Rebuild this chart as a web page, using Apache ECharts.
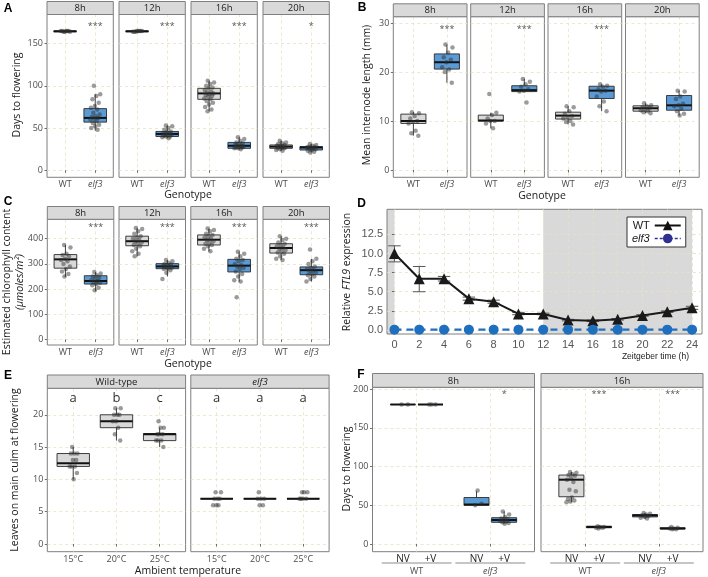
<!DOCTYPE html>
<html><head><meta charset="utf-8">
<script src="https://cdn.jsdelivr.net/npm/echarts@6/dist/echarts.min.js"></script>
<style>html,body{margin:0;padding:0;background:#fff}#c{width:708px;height:577px}</style>
</head><body><div id="c"></div><script>
// ---------------- DATA ----------------
const photoperiods = ['8h','12h','16h','20h'];
const genotypes = ['WT','elf3'];

// A: days to flowering  [min, q1, median, q3, max]
const daysTicks = [0,50,100,150];
const daysBoxWT   = [[164,164,164.5,165,165],[164,164,164.5,165,165],[70,84,91,97,106],[23,26,28,30,35]];
const daysBoxElf3 = [[47,57,62,73,90],[38,40,43,46,53],[25,26,29,33,39],[21,24,27,28,31]];
const daysPtsWT = [
  [164,164,165,165,165,164,165,165],
  [164,165,165,164,165,165,164,165],
  [106,104,102,100,98,97,95,93,92,91,90,89,88,87,85,84,82,80,78,75,72,70],
  [35,33,32,31,30,29,29,28,28,27,27,26,26,25,24,23]];
const daysPtsElf3 = [
  [100,90,88,84,80,76,74,72,68,66,64,63,62,61,60,58,56,54,52,50,48],
  [53,52,50,48,46,45,44,44,43,42,42,41,40,40,39,38],
  [39,37,35,33,32,31,30,29,29,28,28,27,27,26,26,25],
  [31,30,29,28,28,27,27,26,26,25,24,23,22,21]];
const daysSig = ['***','***','***','*'];

// B: mean internode length (mm)
const internodeTicks = [0,10,20,30];
const internodeBoxWT   = [[7,9.5,10,11.4,11.8],[8.5,10,10.1,11.2,11.7],[9.3,10.4,11.1,11.8,13],[11.6,12,12.6,13.1,13.6]];
const internodeBoxElf3 = [[17.8,20.6,22,23.7,25.6],[15.9,16,16.3,17.2,18.6],[12,14.6,16.2,17.1,17.5],[11.1,12.2,13.2,15.2,16.2]];
const internodePtsWT = [
  [11.8,11.6,11,10.5,10,9.8,9.5,8,7.5,7],
  [15.5,11.7,11.2,10.5,10,10,9.5,8.5],
  [13,12.8,12,11.5,11,10.8,10.5,10,9.8,9.3],
  [13.6,13.2,13,12.8,12.6,12.5,12.2,12,11.8,11.6]];
const internodePtsElf3 = [
  [25.6,25,24,23,22.5,22,21,20.5,20,17.8],
  [18.6,18,17.5,17,16.5,16.2,16,13.8],
  [17.5,17.2,17,16.5,16.2,16,15,14,13,12],
  [16.2,16,15,14.5,13.5,13.2,13,12.5,12,11.5,11.1]];
const internodeSig = ['***','***','***',''];

// C: chlorophyll content
const chlTicks = [0,100,200,300,400];
const chlBoxWT   = [[248,283,318,337,375],[330,372,390,410,442],[350,375,396,415,440],[315,343,363,380,410]];
const chlBoxElf3 = [[192,220,232,253,268],[250,281,290,301,315],[230,268,293,318,348],[230,257,275,288,320]];
const chlPtsWT = [
  [375,365,340,335,330,320,315,310,300,290,280,270,260,250],
  [442,438,430,420,410,405,400,395,390,385,380,375,370,360,350,340,330],
  [440,435,430,420,415,410,405,400,395,390,385,380,375,370,360,350],
  [410,400,395,385,380,375,370,365,360,355,350,345,340,330,320,315]];
const chlPtsElf3 = [
  [268,262,255,250,245,240,235,232,228,225,220,215,205,195],
  [315,310,305,300,298,295,292,290,288,285,282,280,275,265,240],
  [348,340,330,320,315,310,300,295,290,285,280,270,260,250,235,230,168],
  [357,320,310,300,290,285,280,275,270,265,260,255,250,240,230]];
const chlSig = ['***','***','***','***'];

// D: FTL9 expression over Zeitgeber time
const ztHours = [0,2,4,6,8,10,12,14,16,18,20,22,24];
const ftl9WT     = [10.0,6.7,6.7,4.1,3.7,2.1,2.1,1.3,1.2,1.4,1.9,2.4,2.9];
const ftl9WTLow  = [8.9,5.0,6.4,3.9,3.5,2.0,2.0,1.2,1.1,1.3,1.8,2.3,2.7];
const ftl9WTHigh = [11.0,8.3,7.0,4.3,3.9,2.3,2.2,1.4,1.3,1.5,2.0,2.5,3.1];
const ftl9Elf3   = [0.05,0.05,0.05,0.05,0.05,0.05,0.05,0.05,0.05,0.05,0.05,0.05,0.05];
const ftl9Ticks  = [0,2.5,5,7.5,10,12.5];
const darkPeriods = [[-0.6,0],[12,24]];

// E: leaves on main culm
const leafPanels = ['Wild-type','elf3'];
const temps = ['15°C','20°C','25°C'];
const leafTicks = [0,5,10,15,20];
const leafBox = [
  [[10,12,12.5,14,15],[16,18,19,20,21],[15,16,17,17.1,18]],
  [[7,7,7,7,7],[7,7,7,7,7],[7,7,7,7,7]]];
const leafPts = [
  [[15,14,14,14,13,13,12,12,12,11,10],[21,21,20,20,20,19,19,18,17,16],[19,18,18,17,17,17,16,16,16,15]],
  [[8,8,7,7,7,6,6,6],[8,7,7,7,6,6],[8,8,8,7,7,7,7]]];
const leafLetters = [['a','b','c'],['a','a','a']];

// F: vernalisation, days to flowering (order: WT NV, WT +V, elf3 NV, elf3 +V)
const vernPanels = ['8h','16h'];
const vernTreat = ['NV','+V'];
const vernGeno = ['WT','elf3'];
const vernTicks = [0,50,100,150,200];
const vernBox = [
  [[180,180,180,180,180],[180,180,180,180,180],[50,50,51,60,68],[26,28,31,34,42]],
  [[54,61,83,89,93],[20,21,22,23,24],[33,35,37,38,40],[19,19.5,20,21,22]]];
const vernPts = [
  [[180,180],[180,180,180],[50,52,69],[42,38,35,33,32,31,30,29,28,27,26]],
  [[93,92,90,89,88,85,83,80,70,68,60,58,56,55,54],[23,22,22,21,21,20],[40,39,38,37,36,35,34,33],[22,21,20,20,19,19]]];
const vernSig = [['','','','*'],['','***','','***']];

// ---------------- STYLE / LAYOUT ----------------
const FONT = 'Open Sans, DejaVu Sans, sans-serif';
const DFONT = 'Liberation Sans, Arial, sans-serif';
const GRIDC = '#e8e1c4';
const BORDER = '#7f7f7f';
const GRAYFILL = '#d9d9d9';
const BLUEFILL = '#5b9bd5';
const TICKC = '#4d4d4d';
const ITALIC = new Set(['elf3']);

const chart = echarts.init(document.getElementById('c'), null, {renderer:'canvas'});
const grids=[], xAxes=[], yAxes=[], series=[], graphics=[];

function jit(i, w){ const f = ((i*0.6180339887 + 0.37) % 1); return (f-0.5)*2*w; }
function addGrid(left, top, width, height){
  grids.push({left, top, width, height, show:true, borderColor:BORDER, borderWidth:1, backgroundColor:'transparent'});
  return grids.length-1;
}
function nameFmt(n){ return ITALIC.has(n) ? '{i|'+n+'}' : n; }
function richI(fs, color){ return {i:{fontStyle:'italic', fontSize:fs, color:color, fontFamily:FONT}}; }
const splitL = {show:true, lineStyle:{color:GRIDC, type:[3,3], width:0.8}};

function yVal(gi, min, max, ticks, show, step, fmt, fs, fam){
  yAxes.push({type:'value', gridIndex:gi, min, max, minInterval:step, maxInterval:step,
    axisLine:{show:false},
    axisTick:{show:show, length:2.5, customValues:ticks, lineStyle:{color:TICKC, width:0.8}},
    axisLabel:{show:show, customValues:ticks, margin:4, color:TICKC, fontSize:fs||9, fontFamily:fam||FONT,
      formatter: fmt || (v=>String(v))},
    splitLine:splitL});
  return yAxes.length-1;
}
function xVal(gi, min, max, tickVals, labelVals, fmt, step, lab){
  xAxes.push({type:'value', gridIndex:gi, min, max, minInterval:step, maxInterval:step, position:'bottom',
    axisLine:{show:false},
    axisTick:{show:true, length:2.5, customValues:tickVals, lineStyle:{color:TICKC, width:0.8}},
    axisLabel:Object.assign({show:true, customValues:labelVals, margin:3, color:TICKC, fontSize:9, fontFamily:FONT,
      formatter:fmt, rich:richI(9, TICKC)}, lab||{}),
    splitLine:splitL});
  return xAxes.length-1;
}
function boxSeries(xi, yi, items, fill){
  series.push({type:'custom', xAxisIndex:xi, yAxisIndex:yi, z:3, silent:true, data:items,
    renderItem:(p, api)=>{
      const x=api.value(0), hw=api.value(6);
      const mn=api.value(1), q1=api.value(2), md=api.value(3), q3=api.value(4), mx=api.value(5);
      const a=api.coord([x-hw,q3]), b=api.coord([x+hw,q1]);
      const c=api.coord([x,mx]), d=api.coord([x,mn]);
      const mL=api.coord([x-hw,md]), mR=api.coord([x+hw,md]);
      const st={stroke:'#2b2b2b', lineWidth:0.9};
      return {type:'group', children:[
        {type:'line', shape:{x1:c[0],y1:c[1],x2:c[0],y2:a[1]}, style:st},
        {type:'line', shape:{x1:d[0],y1:d[1],x2:d[0],y2:b[1]}, style:st},
        {type:'rect', shape:{x:a[0],y:a[1],width:b[0]-a[0],height:Math.max(b[1]-a[1],0.01)}, style:{fill:fill, stroke:'#2b2b2b', lineWidth:0.9}},
        {type:'line', shape:{x1:mL[0],y1:mL[1],x2:mR[0],y2:mR[1]}, style:{stroke:'#111', lineWidth:2}}
      ]};
    }});
}
function ptsSeries(xi, yi, x, vals, w){
  series.push({type:'scatter', xAxisIndex:xi, yAxisIndex:yi, z:4, symbolSize:4.5, silent:true,
    itemStyle:{color:'rgba(45,45,45,0.6)'}, data: vals.map((v,i)=>[x+jit(i,w), v])});
}
function textSeries(xi, yi, items, style){
  series.push({type:'custom', xAxisIndex:xi, yAxisIndex:yi, z:5, silent:true,
    data: items.map(d=>[d[0],d[1]]),
    renderItem:(p, api)=>{
      const pt=api.coord([api.value(0),api.value(1)]);
      return {type:'text', x:pt[0], y:pt[1], style:Object.assign({text:items[p.dataIndex][2], align:'center', verticalAlign:'middle'}, style)};
    }});
}
function strip(left, top, w, h, label){
  graphics.push({type:'rect', shape:{x:left, y:top, width:w, height:h}, style:{fill:GRAYFILL, stroke:BORDER, lineWidth:1}, z:10});
  graphics.push({type:'text', x:left+w/2, y:top+h/2+0.5, z:11, style:{text:ITALIC.has(label)?'{i|'+label+'}':label, align:'center', verticalAlign:'middle',
    fill:'#1a1a1a', fontSize:9.5, fontFamily:FONT, rich:{i:{fontStyle:'italic', fontSize:9.5, fill:'#1a1a1a', fontFamily:FONT}}}});
}
function title(x, y, text, opts){
  graphics.push(Object.assign({type:'text', x, y, z:11, style:Object.assign({text, align:'center', verticalAlign:'middle', fill:'#1a1a1a', fontSize:10.5, fontFamily:FONT}, (opts&&opts.style)||{})}, (opts&&opts.el)||{}));
}
const ROT = {el:{rotation:Math.PI/2}};

// facet rows A,B,C
function facetRow(cfg){
  cfg.lefts.forEach((left, k)=>{
    const gi = addGrid(left, cfg.top, cfg.w, cfg.bottom-cfg.top);
    const xi = xVal(gi, 0.4, 2.6, [1,2], [1,2], v=>nameFmt(genotypes[Math.round(v)-1]), 1);
    const yi = yVal(gi, cfg.ymin, cfg.ymax, cfg.ticks, k===0, cfg.step);
    boxSeries(xi, yi, [[1].concat(cfg.boxWT[k], [0.375])], GRAYFILL);
    boxSeries(xi, yi, [[2].concat(cfg.boxElf3[k], [0.375])], BLUEFILL);
    ptsSeries(xi, yi, 1, cfg.ptsWT[k], 0.17);
    ptsSeries(xi, yi, 2, cfg.ptsElf3[k], 0.17);
    if (cfg.sig[k]) textSeries(xi, yi, [[2, cfg.sigY, cfg.sig[k]]], {fill:'#555', fontSize:9, fontFamily:FONT});
    strip(left, cfg.stripTop, cfg.w, cfg.top-cfg.stripTop, photoperiods[k]);
  });
}
facetRow({lefts:[47,119,191,263], w:66.3, top:14.5, bottom:177.3, stripTop:1.5, ymin:-8.3, ymax:184.4, step:50,
  ticks:daysTicks, boxWT:daysBoxWT, boxElf3:daysBoxElf3, ptsWT:daysPtsWT, ptsElf3:daysPtsElf3, sig:daysSig, sigY:170});
facetRow({lefts:[393.3,470.7,548,625.5], w:73.7, top:16.7, bottom:177.3, stripTop:3.8, ymin:-1.5, ymax:31.3, step:10,
  ticks:internodeTicks, boxWT:internodeBoxWT, boxElf3:internodeBoxElf3, ptsWT:internodePtsWT, ptsElf3:internodePtsElf3, sig:internodeSig, sigY:28.6});
facetRow({lefts:[47.3,119,190.8,263], w:66.5, top:219.3, bottom:345, stripTop:206.5, ymin:-22, ymax:477, step:100,
  ticks:chlTicks, boxWT:chlBoxWT, boxElf3:chlBoxElf3, ptsWT:chlPtsWT, ptsElf3:chlPtsElf3, sig:chlSig, sigY:444});

// D
(function(){
  const gi = addGrid(387, 209.3, 315, 124.7);
  const xi = xVal(gi, -0.6, 24.8, ztHours, ztHours, v=>String(v), 2,
    {fontSize:11, fontFamily:DFONT, margin:5, color:'#555'});
  const yi = yVal(gi, -0.52, 15.77, ftl9Ticks, true, 2.5, v=>v.toFixed(1), 11, DFONT);
  yAxes[yi].axisLabel.color = '#555';
  series.push({type:'line', name:'shade', xAxisIndex:xi, yAxisIndex:yi, data:[], z:-1, silent:true,
    markArea:{silent:true, z:-1, itemStyle:{color:GRAYFILL}, data: darkPeriods.map(p=>[{xAxis:p[0]},{xAxis:p[1]}])}});
  series.push({type:'custom', xAxisIndex:xi, yAxisIndex:yi, z:3, silent:true,
    data: ztHours.map((h,i)=>[h, ftl9WTLow[i], ftl9WTHigh[i]]),
    renderItem:(p, api)=>{
      const x=api.value(0), cw=0.5;
      const lo=api.coord([x,api.value(1)]), hi=api.coord([x,api.value(2)]);
      const l1=api.coord([x-cw,api.value(1)]), r1=api.coord([x+cw,api.value(1)]);
      const l2=api.coord([x-cw,api.value(2)]), r2=api.coord([x+cw,api.value(2)]);
      const st={stroke:'#555', lineWidth:1};
      return {type:'group', children:[
        {type:'line', shape:{x1:lo[0],y1:lo[1],x2:hi[0],y2:hi[1]}, style:st},
        {type:'line', shape:{x1:l1[0],y1:l1[1],x2:r1[0],y2:r1[1]}, style:st},
        {type:'line', shape:{x1:l2[0],y1:l2[1],x2:r2[0],y2:r2[1]}, style:st}]};
    }});
  series.push({type:'line', name:'WT', xAxisIndex:xi, yAxisIndex:yi, z:4, silent:true,
    data: ztHours.map((h,i)=>[h, ftl9WT[i]]), symbol:'triangle', symbolSize:11,
    lineStyle:{color:'#1a1a1a', width:2}, itemStyle:{color:'#1a1a1a'}});
  series.push({type:'line', name:'elf3', xAxisIndex:xi, yAxisIndex:yi, z:4, silent:true,
    data: ztHours.map((h,i)=>[h, ftl9Elf3[i]]), symbol:'circle', symbolSize:10,
    lineStyle:{color:'#1f6fbf', width:2.2, type:[7,5]}, itemStyle:{color:'#1f6fbf'}});
})();

// E
const eLefts = [47.3,190.8];
leafPanels.forEach((pn, k)=>{
  const gi = addGrid(eLefts[k], 388.3, 138.3, 163.4);
  const xi = xVal(gi, 0.4, 3.6, [1,2,3], [1,2,3], v=>temps[Math.round(v)-1], 1);
  const yi = yVal(gi, -1.2, 24.1, leafTicks, k===0, 5);
  leafBox[k].forEach((b, j)=>{
    boxSeries(xi, yi, [[j+1].concat(b, [0.375])], k===0 ? GRAYFILL : BLUEFILL);
    ptsSeries(xi, yi, j+1, leafPts[k][j], 0.1);
  });
  textSeries(xi, yi, leafLetters[k].map((l,j)=>[j+1, 22.5, l]), {fill:'#333', fontSize:13, fontFamily:FONT});
  strip(eLefts[k], 375, 138.3, 13.3, pn);
});

// F
const fLefts = [372.5,541];
const fLabelPos = [0.8125,1.1875,1.8125,2.1875];
const fXIdx = [];
vernPanels.forEach((pn, k)=>{
  const gi = addGrid(fLefts[k], 387.3, 162, 164.4);
  const xi = xVal(gi, 0.4, 2.6, [1,2], fLabelPos, v=>{
      const idx = fLabelPos.findIndex(q=>Math.abs(q-v)<1e-6); return vernTreat[idx%2]; }, 1,
    {fontSize:10, color:'#222', margin:2});
  fXIdx.push(xi);
  xAxes.push({type:'value', gridIndex:gi, min:0.4, max:2.6, position:'bottom', offset:12,
    axisLine:{show:false}, axisTick:{show:false}, splitLine:{show:false},
    axisLabel:{show:true, customValues:[1,2], margin:3, color:TICKC, fontSize:9, fontFamily:FONT,
      formatter:v=>nameFmt(vernGeno[Math.round(v)-1]), rich:richI(9, TICKC)}});
  const yi = yVal(gi, -9.9, 202.2, vernTicks, k===0, 50);
  vernBox[k].forEach((b, j)=>{
    const g = j>>1, t = j&1;
    const x = g+1 + (t ? 0.1875 : -0.1875);
    boxSeries(xi, yi, [[x].concat(b, [0.17])], g===0 ? GRAYFILL : BLUEFILL);
    ptsSeries(xi, yi, x, vernPts[k][j], 0.07);
    if (vernSig[k][j]) textSeries(xi, yi, [[x, 193, vernSig[k][j]]], {fill:'#555', fontSize:9, fontFamily:FONT});
  });
  strip(fLefts[k], 373.5, 162, 13.8, pn);
});

// titles
title(188, 195, 'Genotype');
title(542, 196, 'Genotype');
title(188, 364, 'Genotype');
title(17, 95, 'Days to flowering', ROT);
title(367, 95, 'Mean internode length (mm)', ROT);
title(7, 282, 'Estimated chlorophyll content', ROT);
title(20, 282, '(μmoles/m²)', {el:{rotation:Math.PI/2}, style:{fontStyle:'italic'}});
title(347, 272, 'Relative {i|FTL9} expression', {el:{rotation:Math.PI/2}, style:{rich:{i:{fontStyle:'italic', fontSize:10.5, fontFamily:FONT, fill:'#1a1a1a'}}}});
title(689, 357, 'Zeitgeber time (h)', {style:{align:'right', fontSize:8.5, fontFamily:'Liberation Sans Narrow, Liberation Sans, sans-serif'}});
title(15, 470, 'Leaves on main culm at flowering', ROT);
title(188, 571, 'Ambient temperature');
title(347, 469, 'Days to flowering', ROT);
[['A',8,8.5],['B',362,8],['C',8,201.5],['D',361.5,203.5],['E',8,375.5],['F',361,375]].forEach(l=>{
  title(l[1], l[2], l[0], {style:{fontWeight:'bold', fontSize:12, fontFamily:DFONT, fill:'#000'}});
});

chart.setOption({
  animation:false,
  backgroundColor:'#fff',
  grid:grids, xAxis:xAxes, yAxis:yAxes, series:series,
  legend:{show:true, selectedMode:false, orient:'vertical', left:627, top:217, align:'right',
    itemWidth:26, itemHeight:12, itemGap:2, padding:[3,4,3,5], borderColor:'#333', borderWidth:1, backgroundColor:'#fff',
    data:[{name:'WT', itemStyle:{color:'#111'}, lineStyle:{color:'#111', width:2}},
          {name:'elf3', itemStyle:{color:'#2e3192'}, lineStyle:{color:'#2e3192', width:1.5, type:[3,2]}}],
    formatter:n=> n==='elf3' ? '{i|elf3}' : '{t|'+n+'}',
    textStyle:{fontSize:11, fontFamily:DFONT, color:'#1a1a1a',
      rich:{t:{width:22, align:'right', fontSize:11, fontFamily:DFONT, color:'#1a1a1a'},
            i:{width:22, align:'right', fontSize:11, fontFamily:DFONT, color:'#1a1a1a', fontStyle:'italic'}}}},
  graphic:graphics
});

// F group underlines from the axis scale
const extra = [];
fXIdx.forEach(xi=>{
  [[0.525,1.475],[1.525,2.475]].forEach(r=>{
    const a = chart.convertToPixel({xAxisIndex:xi}, r[0]);
    const b = chart.convertToPixel({xAxisIndex:xi}, r[1]);
    extra.push({type:'line', shape:{x1:a, y1:563, x2:b, y2:563}, style:{stroke:'#8c8c8c', lineWidth:1}, z:11});
  });
});
chart.setOption({graphic: graphics.concat(extra)});
</script></body></html>
